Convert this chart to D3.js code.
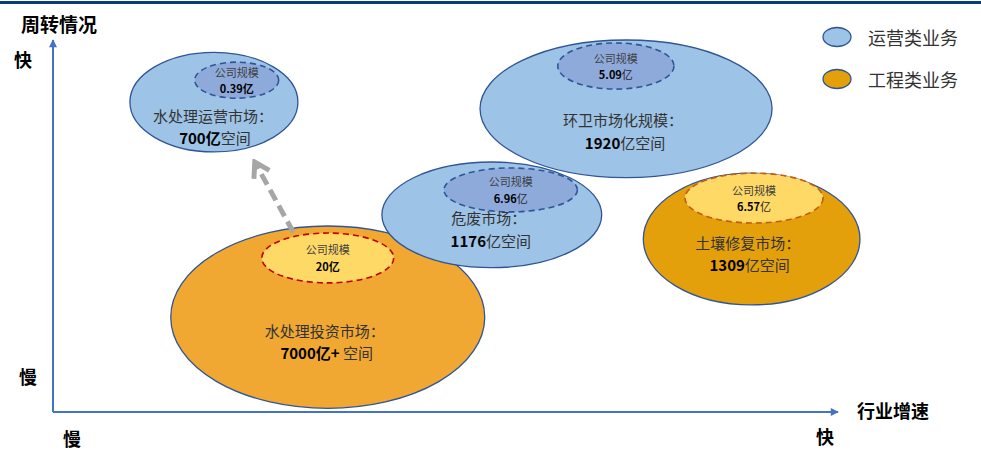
<!DOCTYPE html>
<html>
<head>
<meta charset="utf-8">
<script src="https://cdn.jsdelivr.net/npm/d3@7"></script>
<style>
  body { margin: 0; background: #fff; }
  svg { display: block; font-family: 'Noto Sans CJK SC', 'Noto Sans', sans-serif; }
</style>
</head>
<body>
<div id="chart"></div>
<script>
// bubble data, in axis units (0-100 growth / turnover)
const markets = ['水处理运营市场：', '环卫市场化规模：', '危废市场：', '土壤修复市场：', '水处理投资市场：'];
const marketSize = ['700亿', '1920', '1176', '1309', '7000亿+'];
const marketSuffix = ['空间', '亿空间', '亿空间', '亿空间', ' 空间'];
const companySize = ['0.39亿', '5.09', '6.96', '6.57', '20亿'];
const companySuffix = ['', '亿', '亿', '亿', ''];
const businessType = ['运营', '运营', '运营', '工程', '工程'];

const growth = [20.5, 73.0, 55.9, 89.0, 35.0];
const turnover = [83.3, 81.5, 53.0, 46.5, 25.5];
const spreadX = [10.7, 18.6, 14.0, 13.8, 20.0];
const spreadY = [13.4, 18.5, 14.2, 17.7, 24.5];

const companyGrowth = [23.4, 71.7, 58.3, 89.3, 35.0];
const companyTurnover = [89.2, 93.0, 59.7, 57.5, 41.4];
const companySpreadX = [5.35, 7.4, 8.5, 8.8, 8.4];
const companySpreadY = [4.84, 6.2, 5.9, 6.7, 6.7];

// trend arrow: from investment toward operation
const trendFrom = [30.6, 48.4];
const trendTo = [25.7, 67.2];

const legendLabels = ['运营类业务', '工程类业务'];

const width = 981;
const height = 450;
const margin = { top: 40, right: 143, bottom: 38, left: 53 };

const svg = d3.select('#chart').append('svg')
    .attr('width', width)
    .attr('height', height);

const xs = d3.scaleLinear().domain([0, 100]).range([margin.left, width - margin.right]);
const ys = d3.scaleLinear().domain([0, 100]).range([height - margin.bottom, margin.top]);
const kx = (xs(100) - xs(0)) / 100;
const ky = (ys(0) - ys(100)) / 100;

// top rule
svg.append('rect')
    .attr('x', 0).attr('y', 1)
    .attr('width', width).attr('height', 3)
    .attr('fill', '#0b3b78');

const defs = svg.append('defs');
defs.append('marker')
    .attr('id', 'axis-arrow')
    .attr('viewBox', '0 0 10 10')
    .attr('refX', 9).attr('refY', 5)
    .attr('markerWidth', 9).attr('markerHeight', 8)
    .attr('markerUnits', 'userSpaceOnUse')
    .attr('orient', 'auto')
    .append('path')
    .attr('d', 'M0,0L10,5L0,10Z')
    .attr('fill', '#4472c4');

defs.append('marker')
    .attr('id', 'trend-arrow')
    .attr('viewBox', '0 0 20 20')
    .attr('refX', 17).attr('refY', 10)
    .attr('markerWidth', 22).attr('markerHeight', 22)
    .attr('markerUnits', 'userSpaceOnUse')
    .attr('orient', 'auto')
    .append('path')
    .attr('d', 'M4,2L17,10L4,18')
    .attr('fill', 'none')
    .attr('stroke', '#a6a6a6')
    .attr('stroke-width', 4.5);

// axes
const xAxis = svg.append('g')
    .attr('transform', `translate(0,${ys(0)})`)
    .call(d3.axisBottom(xs).tickValues([]).tickSizeOuter(0));
const yAxis = svg.append('g')
    .attr('transform', `translate(${xs(0)},0)`)
    .call(d3.axisLeft(ys).tickValues([]).tickSizeOuter(0));

xAxis.select('.domain')
    .attr('stroke', '#4472c4').attr('stroke-width', 2)
    .attr('d', `M${xs(0)},0H${xs(100)}`)
    .attr('marker-end', 'url(#axis-arrow)');
yAxis.select('.domain')
    .attr('stroke', '#4472c4').attr('stroke-width', 2)
    .attr('d', `M0,${ys(0)}V${ys(100)}`)
    .attr('marker-end', 'url(#axis-arrow)');

// axis captions
const caption = (txt, x, y, size, anchor) => svg.append('text')
    .text(txt)
    .attr('x', x).attr('y', y)
    .attr('font-size', size)
    .attr('font-weight', 'bold')
    .attr('fill', '#000')
    .attr('text-anchor', anchor || 'start')
    .attr('dominant-baseline', 'central');

caption('周转情况', 21, 23, 19);
caption('快', 14, 59, 18);
caption('慢', 19, 376, 18);
caption('慢', 63, 438, 18);
caption('快', 816, 436, 18);
caption('行业增速', 857, 410, 18);

const style = {
    outerFill: ['#9dc3e6', '#9dc3e6', '#9dc3e6', '#e4a00b', '#f0a832'],
    innerFill: ['#8eaadb', '#8eaadb', '#8eaadb', '#ffd966', '#ffd966'],
    innerStroke: ['#2f5597', '#2f5597', '#2f5597', '#c55a11', '#c00000'],
};

// label anchors (pixel offsets from bubble centre)
const labelDx = [-1, -3, -3, -4, -3];
const labelDy = [13, 11, 3, 3, 13];

const drawOrder = [4, 0, 1, 2, 3];

const bubbles = svg.append('g');

drawOrder.forEach((i) => {
    const g = bubbles.append('g');
    g.append('ellipse')
        .attr('cx', xs(growth[i]))
        .attr('cy', ys(turnover[i]))
        .attr('rx', spreadX[i] * kx)
        .attr('ry', spreadY[i] * ky)
        .attr('fill', style.outerFill[i])
        .attr('stroke', '#2f5597')
        .attr('stroke-width', 1.3);

    g.append('ellipse')
        .attr('cx', xs(companyGrowth[i]))
        .attr('cy', ys(companyTurnover[i]))
        .attr('rx', companySpreadX[i] * kx)
        .attr('ry', companySpreadY[i] * ky)
        .attr('fill', style.innerFill[i])
        .attr('stroke', style.innerStroke[i])
        .attr('stroke-width', 1.6)
        .attr('stroke-dasharray', '6,4');

    g.append('text')
        .text('公司规模')
        .attr('x', xs(companyGrowth[i]))
        .attr('y', ys(companyTurnover[i]) - 8.5)
        .attr('text-anchor', 'middle')
        .attr('dominant-baseline', 'central')
        .attr('font-size', 11)
        .attr('fill', '#404040');

    const val = g.append('text')
        .attr('x', xs(companyGrowth[i]))
        .attr('y', ys(companyTurnover[i]) + 8)
        .attr('text-anchor', 'middle')
        .attr('dominant-baseline', 'central')
        .attr('font-size', 11);
    val.append('tspan').text(companySize[i]).attr('font-weight', 'bold').attr('fill', '#000');
    val.append('tspan').text(companySuffix[i]).attr('fill', '#262626');

    const lx = xs(growth[i]) + labelDx[i];
    const ly = ys(turnover[i]) + labelDy[i];
    g.append('text')
        .text(markets[i])
        .attr('x', lx)
        .attr('y', ly)
        .attr('text-anchor', 'middle')
        .attr('dominant-baseline', 'central')
        .attr('font-size', 15)
        .attr('fill', '#333');

    const sz = g.append('text')
        .attr('x', lx + 2)
        .attr('y', ly + 22)
        .attr('text-anchor', 'middle')
        .attr('dominant-baseline', 'central')
        .attr('font-size', 15);
    sz.append('tspan').text(marketSize[i]).attr('font-weight', 'bold').attr('fill', '#000');
    sz.append('tspan').text(marketSuffix[i]).attr('fill', '#333');
});

// trend arrow
svg.append('line')
    .attr('x1', xs(trendFrom[0])).attr('y1', ys(trendFrom[1]))
    .attr('x2', xs(trendTo[0])).attr('y2', ys(trendTo[1]))
    .attr('stroke', '#a6a6a6')
    .attr('stroke-width', 5)
    .attr('stroke-dasharray', '12,6')
    .attr('marker-end', 'url(#trend-arrow)');

// legend
const legend = svg.append('g').attr('transform', 'translate(837,37)');
legendLabels.forEach((label, i) => {
    const row = legend.append('g').attr('transform', `translate(0,${i * 42})`);
    row.append('ellipse')
        .attr('rx', 14).attr('ry', 9.5)
        .attr('fill', businessType.indexOf(label.slice(0, 2)) === 0 ? '#9dc3e6' : '#e4a00b')
        .attr('stroke', '#2f5597')
        .attr('stroke-width', 1.3);
    row.append('text')
        .text(label)
        .attr('x', 31)
        .attr('y', 0)
        .attr('dominant-baseline', 'central')
        .attr('font-size', 18)
        .attr('fill', '#333');
});
</script>
</body>
</html>
